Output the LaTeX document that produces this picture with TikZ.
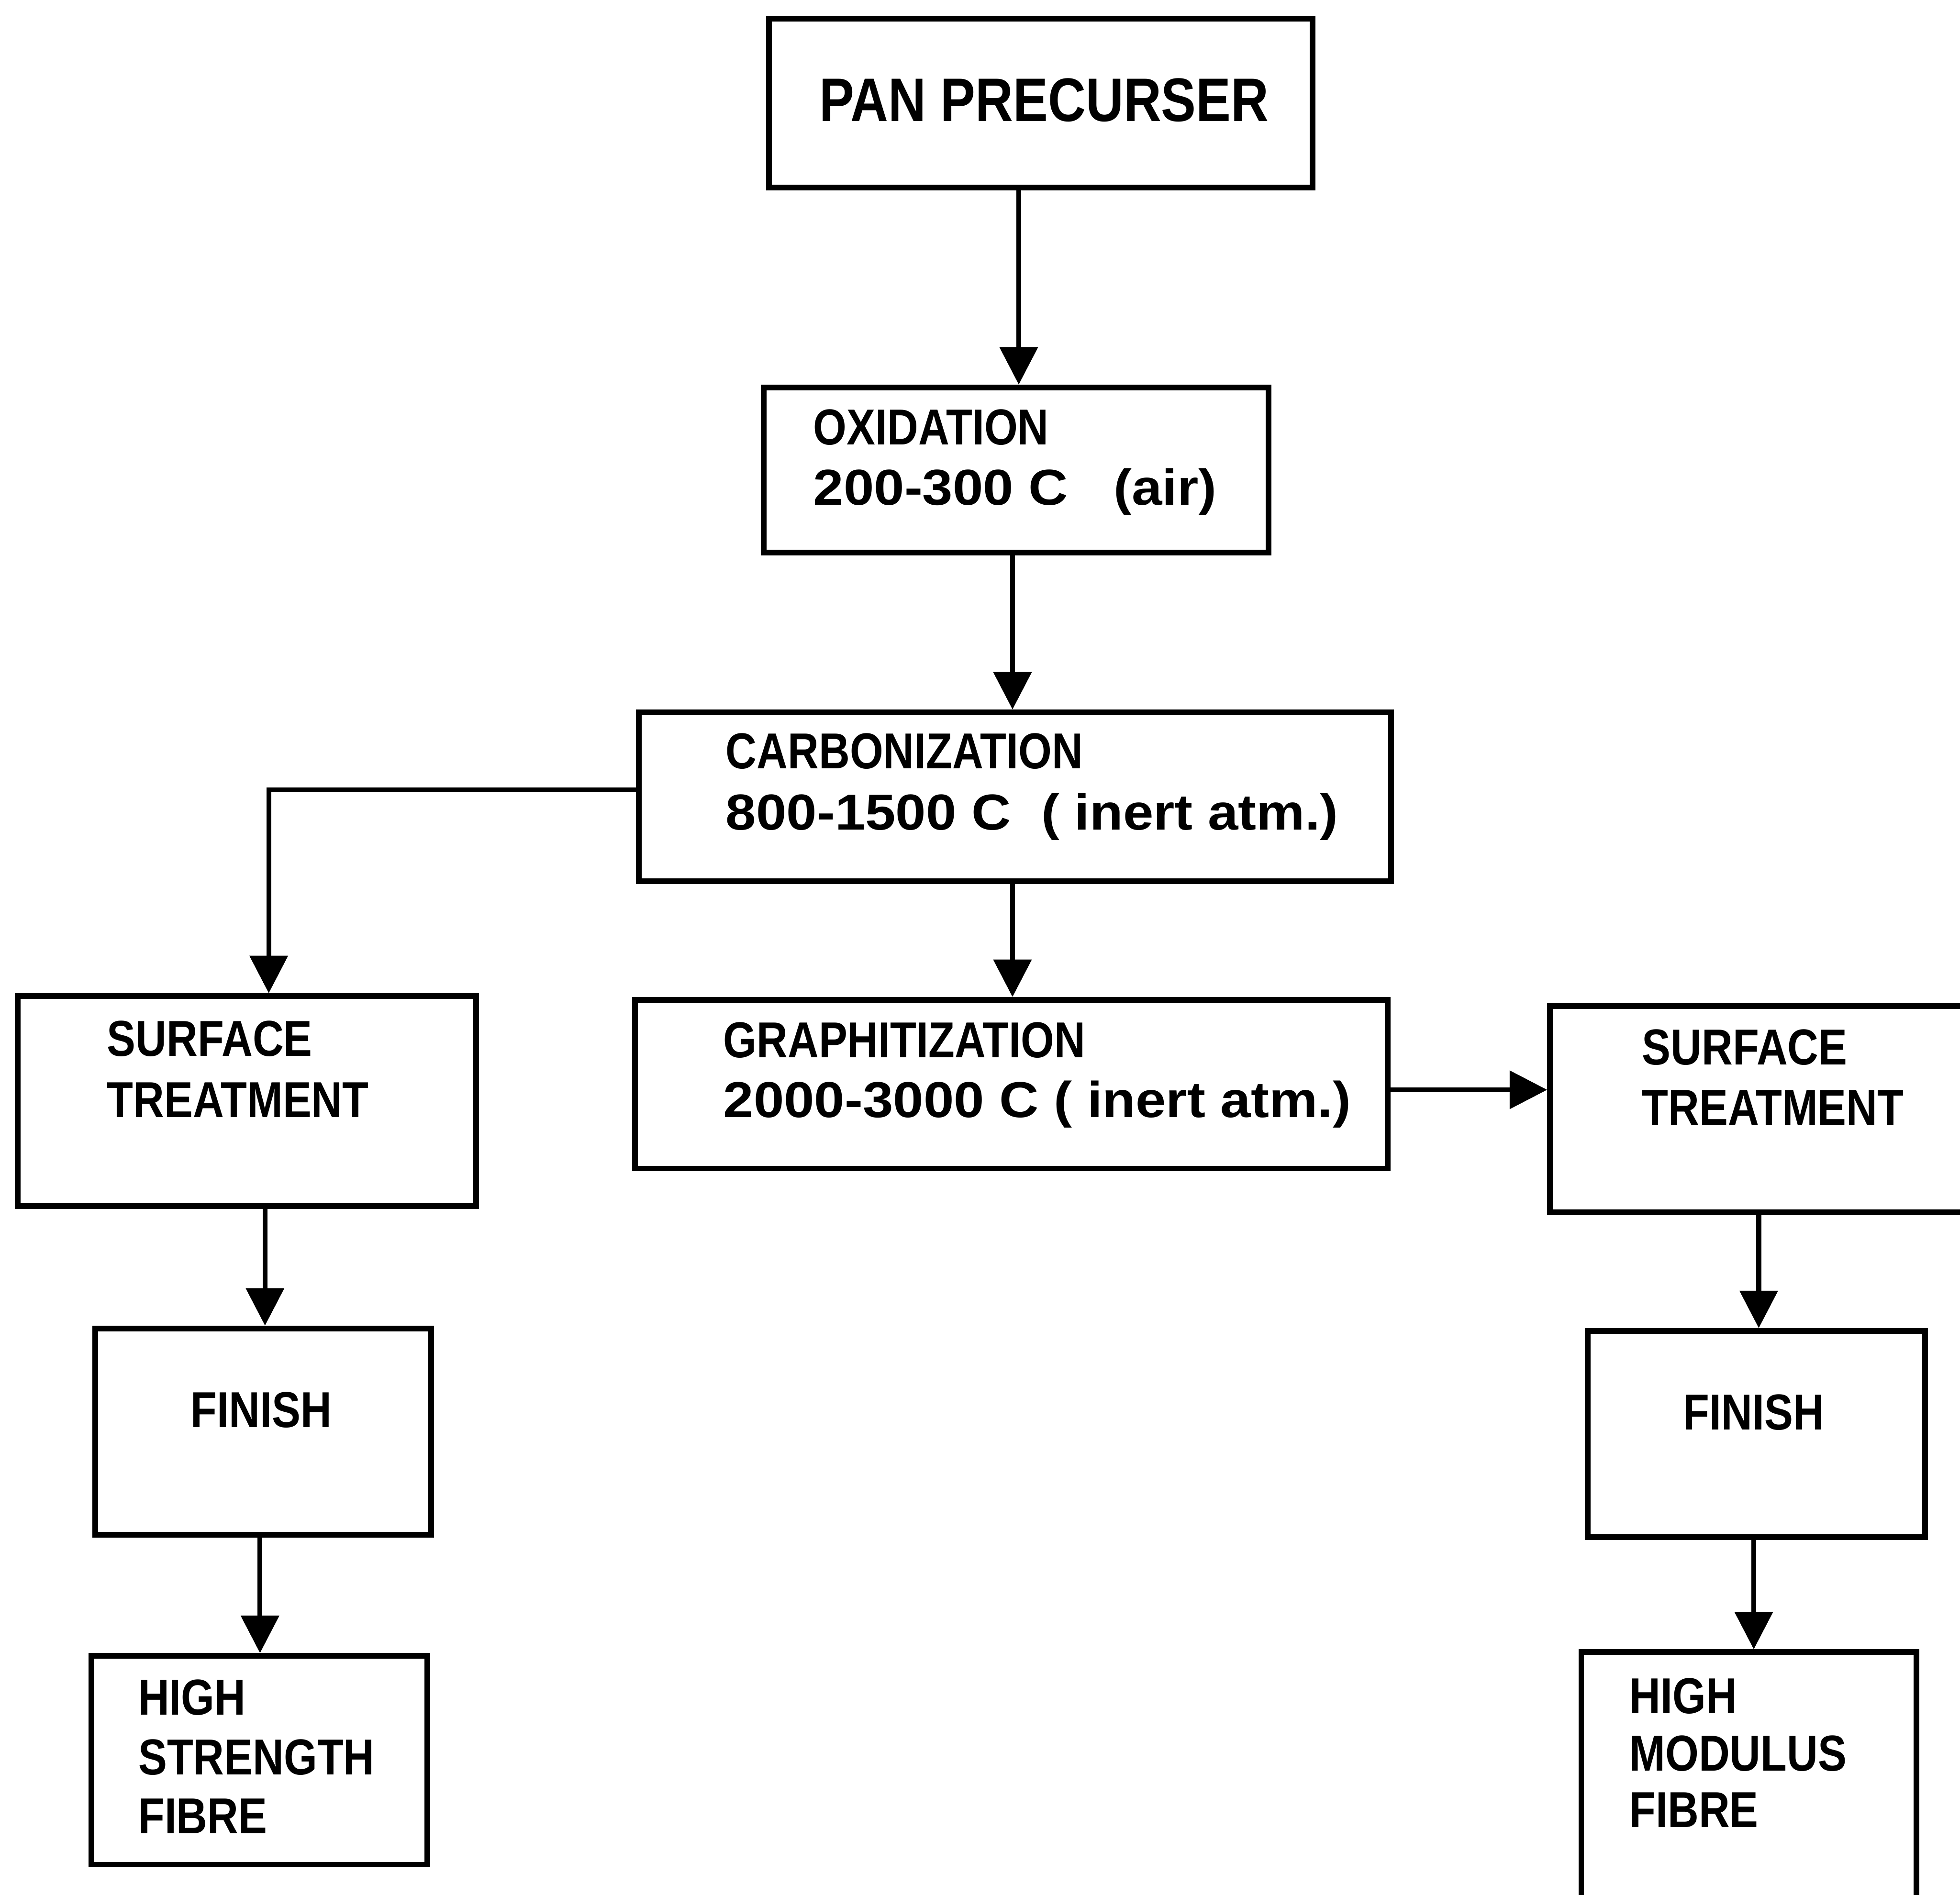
\documentclass[tikz,border=0pt]{standalone}
\usepackage{fontspec}
\setmainfont{Liberation Sans}[FakeStretch=0.85]
\newfontfamily\tempfont{Liberation Sans}[FakeStretch=1.08]
\usetikzlibrary{arrows.meta,calc}

\begin{document}
\begin{tikzpicture}[x=0.1mm, y=-0.1mm, >={Triangle[length=3mm,width=3mm]},
    box/.style={draw, line width=1.3pt, inner sep=0pt},
    lbl/.style={anchor=base west, inner sep=0pt, font=\fontsize{11.5}{12}\selectfont\bfseries},
    tlbl/.style={lbl, font=\fontsize{11.5}{12}\tempfont\bfseries},
    arr/.style={->, line width=1.1pt}]
    \clip (0,0) rectangle (1568,1516);
    % process boxes
    \node[box, minimum width=4.35cm, minimum height=1.35cm] (pan) at (832.5,82.5) {};
    \node[box, minimum width=4.04cm, minimum height=1.32cm] (oxi) at (813,376) {};
    \node[box, minimum width=6.02cm, minimum height=1.35cm] (carb) at (812,637.5) {};
    \node[box, minimum width=6.02cm, minimum height=1.35cm] (graph) at (809,867.5) {};
    % left branch
    \node[box, minimum width=3.67cm, minimum height=1.68cm] (surfL) at (197.5,881) {};
    \node[box, minimum width=2.69cm, minimum height=1.65cm] (finL) at (210.5,1145.5) {};
    \node[box, minimum width=2.69cm, minimum height=1.67cm] (hs) at (207.5,1408.5) {};
    % right branch
    \node[box, minimum width=3.60cm, minimum height=1.65cm] (surfR) at (1420,887.5) {};
    \node[box, minimum width=2.70cm, minimum height=1.65cm] (finR) at (1405,1147.5) {};
    \node[box, minimum width=2.68cm, minimum height=2.18cm] (hm) at (1399,1431) {};
    % labels
    \node[lbl, font=\fontsize{14}{15}\selectfont\bfseries] (panT) at (655,97) {PAN PRECURSER};
    \node[lbl] (oxiA) at (650,356) {OXIDATION};
    \node[tlbl] (oxiB) at (650,404) {200-300 C~~~(air)};
    \node[lbl] (carbA) at (580,615) {CARBONIZATION};
    \node[tlbl] (carbB) at (580,664) {800-1500 C~~( inert atm.)};
    \node[lbl] (graphA) at (578,846) {GRAPHITIZATION};
    \node[tlbl] (graphB) at (578,894) {2000-3000 C ( inert atm.)};
    \node[lbl] (surfLA) at (85,845) {SURFACE};
    \node[lbl] (surfLB) at (85,894) {TREATMENT};
    \node[lbl, anchor=base] (finLT) at (209,1142) {FINISH};
    \node[lbl] (hsA) at (110,1372) {HIGH};
    \node[lbl] (hsB) at (110,1420) {STRENGTH};
    \node[lbl] (hsC) at (110,1467) {FIBRE};
    \node[lbl] (surfRA) at (1313,852) {SURFACE};
    \node[lbl] (surfRB) at (1313,900) {TREATMENT};
    \node[lbl, anchor=base] (finRT) at (1403,1144) {FINISH};
    \node[lbl] (hmA) at (1303,1371) {HIGH};
    \node[lbl] (hmB) at (1303,1417) {MODULUS};
    \node[lbl] (hmC) at (1303,1462) {FIBRE};
    % connectors
    \coordinate (x1) at (815,0);
    \coordinate (x2) at (810,0);
    \coordinate (xL) at (215,632);
    \coordinate (xR) at (0,872);
    \draw[arr] (pan.south -| x1) -- (oxi.north -| x1);
    \draw[arr] (oxi.south -| x2) -- (carb.north -| x2);
    \draw[arr] (carb.south -| x2) -- (graph.north -| x2);
    \draw[arr] (carb.west |- xL) -- (xL) -- (surfL.north -| xL);
    \draw[arr] (graph.east |- xR) -- (surfR.west |- xR);
    \draw[arr] (surfL.south -| 212,0) -- (finL.north -| 212,0);
    \draw[arr] (finL.south -| 208,0) -- (hs.north -| 208,0);
    \draw[arr] (surfR.south -| 1407,0) -- (finR.north -| 1407,0);
    \draw[arr] (finR.south -| 1403,0) -- (hm.north -| 1403,0);
\end{tikzpicture}
\end{document}
